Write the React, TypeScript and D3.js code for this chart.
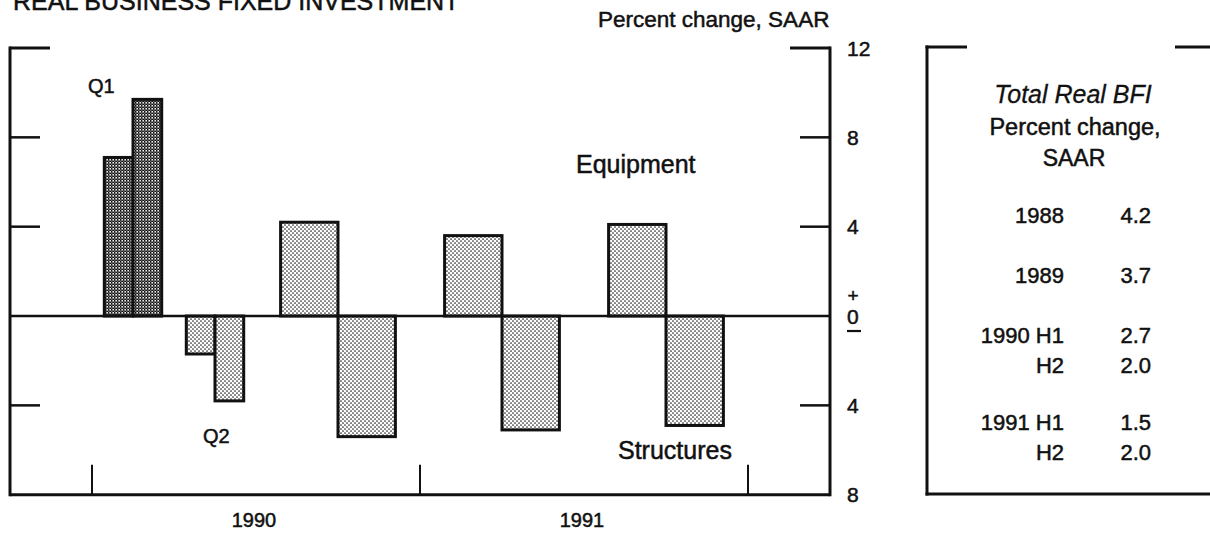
import React from "react";
import * as d3 from "d3";

// ---- Data ----
const periodLabels = ["1990 Q1", "1990 Q2", "1990 H2", "1991 H1", "1991 H2"];
const periodStart = [1990.0, 1990.25, 1990.5, 1991.0, 1991.5];
const periodEnd = [1990.25, 1990.5, 1991.0, 1991.5, 1992.0];
const equipment = [7.1, -1.7, 4.2, 3.6, 4.1];
const structures = [9.7, -3.8, -5.4, -5.1, -4.9];
const darkShade = [true, false, false, false, false];

const yTickValues = [12, 8, 4, 0, -4, -8];
const yTickLabels = ["12", "8", "4", "0", "4", "8"];
const yearBoundaries = [1990, 1991, 1992];
const yearLabels = ["1990", "1991"];
const yearCenters = [1990.5, 1991.5];

const tableLabels = ["1988", "1989", "1990 H1", "H2", "1991 H1", "H2"];
const tableValues = ["4.2", "3.7", "2.7", "2.0", "1.5", "2.0"];

// ---- Layout ----
const W = 1210;
const H = 535;
const FONT = "'Liberation Sans', Arial, Helvetica, sans-serif";
const INK = "#111";
const TS = { fill: INK, stroke: INK, strokeWidth: 0.5 };

export default function App() {
  const x = d3.scaleLinear().domain([1989.75, 1992.25]).range([10, 830]);
  const y = d3.scaleLinear().domain([-8, 12]).range([494.7, 48]);
  const left = x.range()[0];
  const right = x.range()[1];
  const top = y(12);
  const bottom = y(-8);
  const barFrac = 0.35;

  const bars: { x0: number; x1: number; v: number; dark: boolean; key: string }[] = [];
  periodLabels.forEach((p, i) => {
    const mid = (periodStart[i] + periodEnd[i]) / 2;
    const w = (x(periodEnd[i]) - x(periodStart[i])) * barFrac;
    const cx = x(mid);
    bars.push({ x0: cx - w, x1: cx, v: equipment[i], dark: darkShade[i], key: p + "-e" });
    bars.push({ x0: cx, x1: cx + w, v: structures[i], dark: darkShade[i], key: p + "-s" });
  });

  const rowBaselines = [223, 283, 343, 373, 430, 460];

  return (
    <svg
      width={W}
      height={H}
      style={{ position: "absolute", left: 0, top: 0, display: "block", background: "#fff" }}
      fontFamily={FONT}
    >
      <defs>
        <pattern id="lightDots" width="4" height="4" patternUnits="userSpaceOnUse">
          <rect width="4" height="4" fill="#fff" />
          <circle cx="1" cy="1" r="0.85" fill="#222" />
          <circle cx="3" cy="3" r="0.85" fill="#222" />
        </pattern>
        <pattern id="darkDots" width="3" height="3" patternUnits="userSpaceOnUse">
          <rect width="3" height="3" fill="#666" />
          <rect x="0" y="0" width="1.5" height="1.5" fill="#111" />
          <rect x="1.5" y="1.5" width="1.5" height="1.5" fill="#111" />
          <rect x="1.5" y="0" width="1.5" height="1.5" fill="#eee" />
        </pattern>
      </defs>

      {/* Title */}
      <text x={13} y={10} fontSize={25} {...TS}>
        REAL BUSINESS FIXED INVESTMENT
      </text>
      <text x={598} y={27} fontSize={22.5} {...TS}>
        Percent change, SAAR
      </text>

      {/* Bars */}
      {bars.map((b) => {
        const y0 = y(Math.max(0, b.v));
        const y1 = y(Math.min(0, b.v));
        return (
          <rect
            key={b.key}
            x={b.x0}
            y={y0}
            width={b.x1 - b.x0}
            height={y1 - y0}
            fill={b.dark ? "url(#darkDots)" : "url(#lightDots)"}
            stroke={INK}
            strokeWidth={3}
          />
        );
      })}

      {/* Zero line */}
      <line x1={left} x2={right} y1={y(0)} y2={y(0)} stroke={INK} strokeWidth={2.5} />

      {/* Frame */}
      <line x1={left} x2={left} y1={top - 1.5} y2={bottom + 1.5} stroke={INK} strokeWidth={3} />
      <line x1={right} x2={right} y1={top - 1.5} y2={bottom + 1.5} stroke={INK} strokeWidth={3} />
      <line x1={left} x2={right} y1={bottom} y2={bottom} stroke={INK} strokeWidth={3} />
      <line x1={left} x2={left + 40} y1={top} y2={top} stroke={INK} strokeWidth={3} />
      <line x1={right - 40} x2={right} y1={top} y2={top} stroke={INK} strokeWidth={3} />
      {yTickValues
        .filter((v) => v !== 12 && v !== 0 && v !== -8)
        .map((v) => (
          <g key={"t" + v}>
            <line x1={left} x2={left + 30} y1={y(v)} y2={y(v)} stroke={INK} strokeWidth={2.5} />
            <line x1={right - 30} x2={right} y1={y(v)} y2={y(v)} stroke={INK} strokeWidth={2.5} />
          </g>
        ))}

      {/* Right axis labels */}
      {yTickValues.map((v, i) => (
        <text key={"l" + v} x={847} y={y(v) + 7.5} fontSize={21} {...TS}>
          {yTickLabels[i]}
        </text>
      ))}
      <text x={847.5} y={y(0) - 14} fontSize={19} {...TS}>
        +
      </text>
      <line x1={847} x2={861} y1={y(0) + 15} y2={y(0) + 15} stroke={INK} strokeWidth={2.2} />

      {/* Year ticks */}
      {yearBoundaries.map((yr) => (
        <line key={"yb" + yr} x1={x(yr)} x2={x(yr)} y1={bottom - 30} y2={bottom} stroke={INK} strokeWidth={2} />
      ))}
      {yearLabels.map((lab, i) => (
        <text key={lab} x={x(yearCenters[i]) - 2} y={527} fontSize={20} textAnchor="middle" {...TS}>
          {lab}
        </text>
      ))}

      {/* Annotations */}
      <text x={88} y={93} fontSize={20} {...TS}>Q1</text>
      <text x={203} y={443} fontSize={20} {...TS}>Q2</text>
      <text x={576} y={173} fontSize={25} {...TS}>Equipment</text>
      <text x={618} y={459} fontSize={25} {...TS}>Structures</text>

      {/* Right panel */}
      <line x1={927} x2={927} y1={45.5} y2={495.5} stroke={INK} strokeWidth={3} />
      <line x1={925.5} x2={967} y1={47} y2={47} stroke={INK} strokeWidth={3} />
      <line x1={1175} x2={1210} y1={47} y2={47} stroke={INK} strokeWidth={3} />
      <line x1={925.5} x2={1210} y1={494} y2={494} stroke={INK} strokeWidth={3} />
      <text x={1073} y={103} fontSize={25} fontStyle="italic" textAnchor="middle" {...TS} strokeWidth={0.3}>
        Total Real BFI
      </text>
      <text x={1075} y={135} fontSize={23.5} textAnchor="middle" {...TS}>
        Percent change,
      </text>
      <text x={1074} y={166} fontSize={23} textAnchor="middle" {...TS}>
        SAAR
      </text>
      {tableLabels.map((lab, i) => (
        <g key={"row" + i}>
          <text x={1064} y={rowBaselines[i]} fontSize={22} textAnchor="end" {...TS}>
            {lab}
          </text>
          <text x={1151} y={rowBaselines[i]} fontSize={22} textAnchor="end" {...TS}>
            {tableValues[i]}
          </text>
        </g>
      ))}
    </svg>
  );
}
